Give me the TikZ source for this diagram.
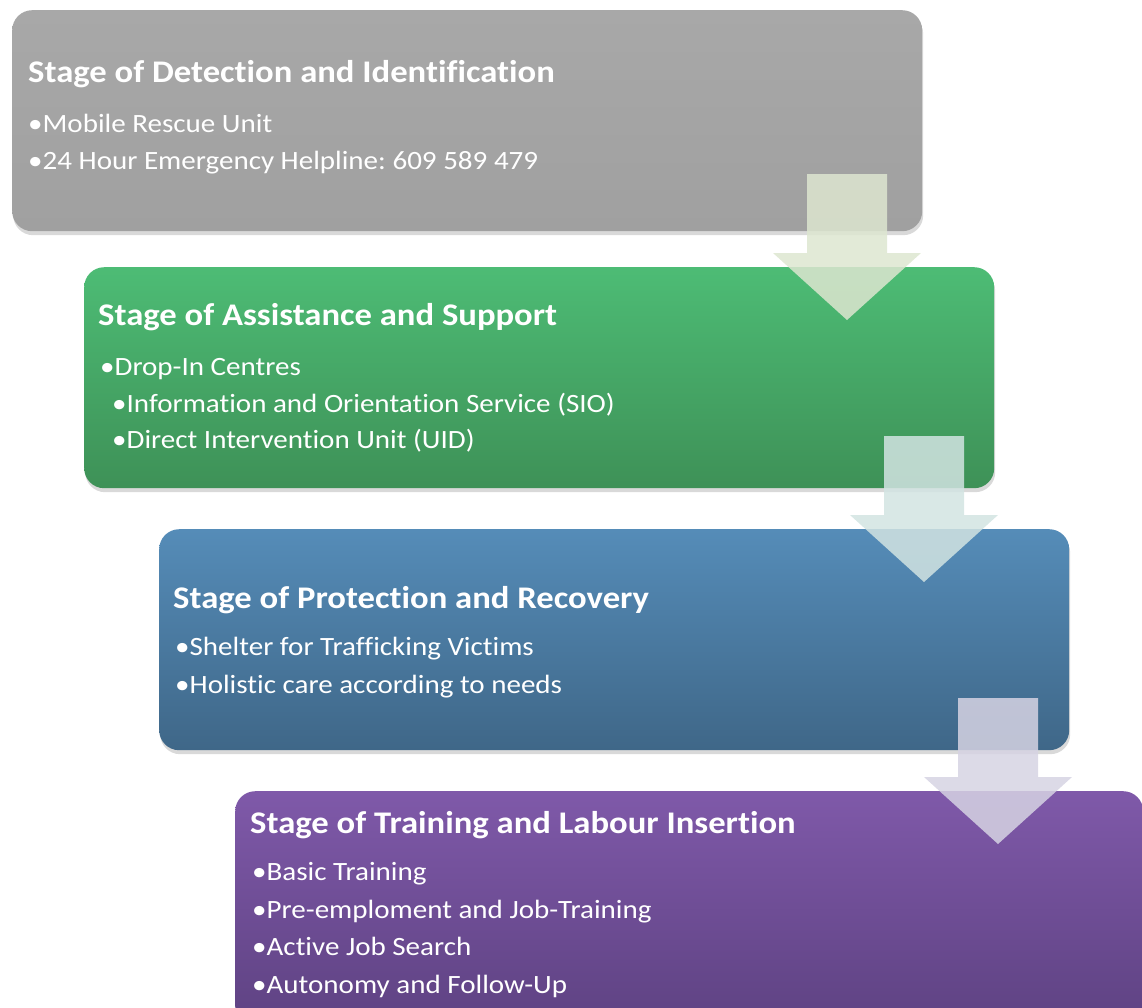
\documentclass[tikz,border=0pt]{standalone}
\usepackage{fontspec}
\setmainfont{Carlito}[FakeStretch=1.1,Ligatures=NoCommon]
\usetikzlibrary{positioning}
\usetikzlibrary{shadows}
\usepackage{xcolor}
\frenchspacing

\definecolor{detTop}{HTML}{A8A8A8}
\definecolor{detBot}{HTML}{A0A0A0}
\definecolor{assTop}{HTML}{4DBC75}
\definecolor{assBot}{HTML}{3E9157}
\definecolor{proTop}{HTML}{558CB8}
\definecolor{proBot}{HTML}{3F6788}
\definecolor{traTop}{HTML}{7F59A9}
\definecolor{traBot}{HTML}{5E4282}
\definecolor{arrA}{HTML}{DDE6D0}
\definecolor{arrB}{HTML}{D2E4E2}
\definecolor{arrC}{HTML}{D6D3E3}

\begin{document}
\begin{tikzpicture}[x=1pt,y=-1pt,
    stage/.style={rounded corners=20pt,minimum width=910pt,minimum height=221pt,
      anchor=north west,inner sep=0pt,
      drop shadow={shadow xshift=1pt,shadow yshift=-4pt,opacity=.3}},%
    ttl/.style={anchor=base west,text=white,inner sep=0pt,
      font=\bfseries\fontsize{31.5}{36}\selectfont},%
    itm/.style={anchor=base west,text=white,inner sep=0pt,
      font=\fontsize{26.4}{30}\selectfont},%
    ar/.style={opacity=.85}]
    \useasboundingbox (0,0) rectangle (1142,1007);
    % the four stages
    \node[stage,top color=detTop,bottom color=detBot] (Det) at (12,10) {};
    \node[stage,top color=assTop,bottom color=assBot] (Ass) at (84,267) {};
    \node[stage,top color=proTop,bottom color=proBot] (Pro) at (159,529) {};
    \node[stage,top color=traTop,bottom color=traBot,minimum width=908pt,minimum height=235pt] (Tra) at (235,791) {};

    \node[ttl] (DetT) at (28,82) {Stage of Detection and Identification};
    \node[itm] (Det1) at (28,132) {•Mobile Rescue Unit};
    \node[itm] (Det2) at (28,169) {•24 Hour Emergency Helpline: 609 589 479};

    \node[ttl] (AssT) at (98,325) {Stage of Assistance and Support};
    \node[itm] (Ass1) at (100,375) {•Drop-In Centres};
    \node[itm] (Ass2) at (112,412) {•Information and Orientation Service (SIO)};
    \node[itm] (Ass3) at (112,448) {•Direct Intervention Unit (UID)};

    \node[ttl] (ProT) at (173,608) {Stage of Protection and Recovery};
    \node[itm] (Pro1) at (175,655) {•Shelter for Trafficking Victims};
    \node[itm] (Pro2) at (175,693) {•Holistic care according to needs};

    \node[ttl] (TraT) at (250,833) {Stage of Training and Labour Insertion};
    \node[itm] (Tra1) at (252,880) {•Basic Training};
    \node[itm] (Tra2) at (252,918) {•Pre-emploment and Job-Training};
    \node[itm] (Tra3) at (252,955) {•Active Job Search};
    \node[itm] (Tra4) at (252,993) {•Autonomy and Follow-Up};

    % arrows between stages
    \foreach \x/\y/\c in {847/174/arrA,924/436/arrB,998/698/arrC}
      \fill[ar,\c] (\x-40,\y) -- (\x+40,\y) -- (\x+40,\y+79) -- (\x+74,\y+79)
        -- (\x,\y+146) -- (\x-74,\y+79) -- (\x-40,\y+79) -- cycle;
\end{tikzpicture}
\end{document}
